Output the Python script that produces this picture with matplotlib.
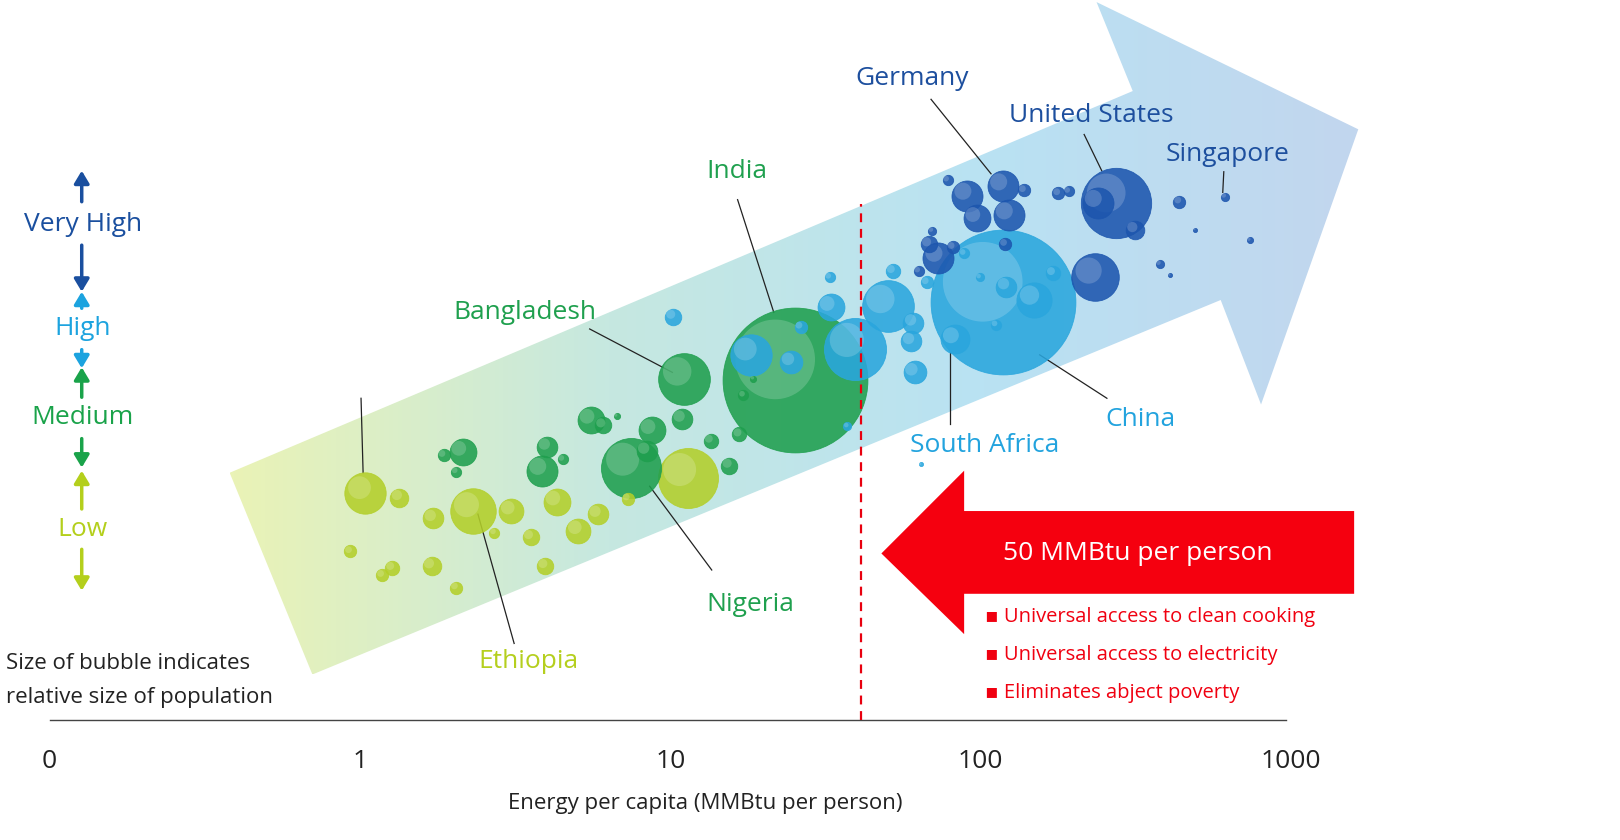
import numpy as np
import matplotlib
matplotlib.use("Agg")
import matplotlib.pyplot as plt
from matplotlib.patches import Polygon, FancyArrowPatch
from matplotlib.colors import LinearSegmentedColormap

plt.rcParams['font.family'] = ['Open Sans', 'DejaVu Sans']

# ---------------- data ----------------
tick_values = [1, 10, 100, 1000]
tick_labels = ["1", "10", "100", "1000"]
threshold = 41  # MMBtu per person

low_x = [1.04, 2.31, 1.34, 1.72, 0.93, 1.27, 1.18, 1.70, 2.04, 3.07, 3.55, 3.95, 4.30, 5.05, 5.84, 7.30, 2.71, 11.4]
low_y = [477, 494, 481, 501, 533, 549, 556, 547, 568, 494, 519, 547, 485, 513, 497, 482, 515, 462]
low_d = [40, 44, 18, 20, 12, 14, 12, 18, 12, 24, 16, 16, 26, 24, 20, 12, 10, 58]

med_x = [2.14, 1.86, 2.04, 3.86, 4.01, 4.50, 7.47, 5.54, 6.07, 6.71, 8.71, 8.38, 11.1, 10.9, 13.5, 15.5, 16.7, 25.3, 17.2, 18.5]
med_y = [437, 440, 456, 455, 432, 444, 452, 406, 411, 402, 416, 436, 366, 405, 426, 450, 420, 367, 382, 366]
med_d = [26, 12, 10, 30, 20, 10, 58, 26, 16, 6, 26, 20, 50, 20, 14, 16, 14, 140, 10, 6]

high_x = [10.2, 18.2, 24.5, 26.3, 32.9, 39.5, 32.6, 50.1, 60.7, 59.8, 61.2, 118, 82.6, 64.1, 52.1, 67.1, 88.4, 99.3, 112, 149, 121, 171, 37.2]
high_y = [306, 343, 350, 316, 297, 337, 268, 296, 312, 330, 360, 292, 328, 449, 262, 273, 245, 268, 314, 290, 277, 264, 412]
high_d = [16, 40, 22, 12, 26, 60, 10, 50, 20, 20, 22, 140, 28, 4, 14, 12, 10, 8, 10, 34, 20, 14, 8]

vh_x = [118, 90.5, 97, 123, 138, 273, 238, 314, 178, 192, 234, 437, 612, 736, 377, 407, 490, 73, 68.1, 81.3, 63.1, 78.2, 120, 69.7]
vh_y = [180, 189, 211, 208, 184, 196, 196, 222, 187, 185, 268, 195, 190, 232, 255, 266, 222, 249, 236, 239, 262, 174, 236, 223]
vh_d = [30, 30, 26, 30, 12, 68, 30, 18, 12, 10, 46, 12, 8, 6, 8, 4, 4, 30, 16, 12, 10, 10, 12, 8]

groups = [
    (low_x, low_y, low_d, "#b3cf2a"),
    (med_x, med_y, med_d, "#1f9f4e"),
    (high_x, high_y, high_d, "#2aa6dd"),
    (vh_x, vh_y, vh_d, "#1d56ae"),
]

labels = [  # text, color, text pos, leader start, leader end
    ("Germany", "#1d4f9e", (882, 76), (900, 96), (958, 168)),
    ("United States", "#1d4f9e", (1055, 112), (1048, 130), (1065, 165)),
    ("Singapore", "#1d4f9e", (1187, 149), (1183, 166), (1182, 186)),
    ("India", "#1fa04e", (712, 166), (713, 193), (748, 302)),
    ("Bangladesh", "#1fa04e", (507, 302), (570, 318), (650, 360)),
    ("Nigeria", "#1fa04e", (725, 584), (688, 551), (628, 470)),
    ("Ethiopia", "#b5cf1e", (511, 639), (497, 622), (462, 497)),
    ("South Africa", "#22a3de", (952, 431), (918, 410), (918, 340)),
    ("China", "#22a3de", (1102, 406), (1070, 385), (1005, 343)),
]

W, H = 1620, 840
VW, VH = 1566, 812  # reference reading frame
S = W / VW
fig = plt.figure(figsize=(W / 100, H / 100), dpi=100)

bg = fig.add_axes([0, 0, 1, 1])
bg.set_xlim(0, VW)
bg.set_ylim(VH, 0)
bg.axis("off")

arrow_pts = [(222, 457), (1095, 88), (1060, 2), (1313, 125), (1219, 391), (1180, 290), (302, 652)]
cmap = LinearSegmentedColormap.from_list("g", ["#eaf3b6", "#c6e8e0", "#b9e2f3", "#c2d6ee"])
grad = np.linspace(0, 1, 256).reshape(1, -1)
im = bg.imshow(grad, cmap=cmap, extent=(222, 1313, 652, 2), aspect="auto", zorder=1)
poly = Polygon(arrow_pts, closed=True, facecolor="none", edgecolor="none")
bg.add_patch(poly)
im.set_clip_path(poly)

red_pts = [(852, 535), (932, 455), (932, 494), (1309, 494), (1309, 574), (932, 574), (932, 613)]
bg.add_patch(Polygon(red_pts, closed=True, facecolor="#f5000f", edgecolor="none", zorder=2))
bg.text(1100, 535, "50 MMBtu per person", color="white", fontsize=19, ha="center", va="center", zorder=3)
for i, t in enumerate(["Universal access to clean cooking", "Universal access to electricity", "Eliminates abject poverty"]):
    bg.text(952, 596 + 37 * i, "▪ " + t, color="#f00010", fontsize=14.5, ha="left", va="center")

leg = [("Very High", "#1a4f9f", 217, (195, 165), (237, 282)),
       ("High", "#1ca3df", 318, (298, 282), (338, 356)),
       ("Medium", "#1aa34a", 404, (384, 355), (424, 452)),
       ("Low", "#b4cf1c", 512, (492, 455), (531, 571))]
for txt, c, yy, up, dn in leg:
    bg.text(80, yy, txt, color=c, fontsize=19, ha="center", va="center")
    for a, b in (up, dn):
        bg.add_patch(FancyArrowPatch((79, a), (79, b), arrowstyle="-|>,head_length=5,head_width=3",
                                     color=c, lw=2.5, mutation_scale=1.5, shrinkA=0, shrinkB=0))

bg.text(6, 641, "Size of bubble indicates", fontsize=16, va="center", color="#222222")
bg.text(6, 674, "relative size of population", fontsize=16, va="center", color="#222222")
bg.plot([48, 1243], [696, 696], color="#444444", lw=1)
bg.text(48, 736, "0", fontsize=19, ha="center", va="center", color="#222222")
bg.text(682, 777, "Energy per capita (MMBtu per person)", fontsize=16, ha="center", va="center", color="#222222")

for txt, c, tp, a, b in labels:
    bg.text(tp[0], tp[1], txt, color=c, fontsize=19, ha="center", va="center", zorder=5)
    bg.plot([a[0], b[0]], [a[1], b[1]], color="#222222", lw=0.9, zorder=5)
bg.plot([349, 351], [385, 457], color="#222222", lw=0.9, zorder=5)

ax = fig.add_axes([0, 0, 1, 1], facecolor="none")
ax.set_xscale("log")
ax.set_xlim(10 ** (-1 - 48 / 300), 10 ** (-1 + (VW - 48) / 300))
ax.set_ylim(VH, 0)
ax.axis("off")

ax.axvline(threshold, ymin=1 - 696 / VH, ymax=1 - 197 / VH, color="#e8000f", ls=(0, (4, 3)), lw=1.6, zorder=4)
for v, l in zip(tick_values, tick_labels):
    ax.text(v, 736, l, fontsize=19, ha="center", va="center", color="#222222")

pt = 0.72 * S
allb = []
for xs, ys, ds, c in groups:
    for x, y, d in zip(xs, ys, ds):
        allb.append((d, x, y, c))
allb.sort(key=lambda r: -r[0])
for d, x, y, c in allb:
    ax.scatter([x], [y], s=(d * pt) ** 2, color=c, alpha=0.88, edgecolors=matplotlib.colors.to_rgba(c, 0.9),
               linewidths=0.6, zorder=3)
    hx = x * 10 ** (-d * 0.14 / 300)
    hy = y - d * 0.14
    ax.scatter([hx], [hy], s=(d * 0.55 * pt) ** 2, color="white", alpha=0.18, edgecolors="none", zorder=3)

fig.savefig("out.png", dpi=100)
